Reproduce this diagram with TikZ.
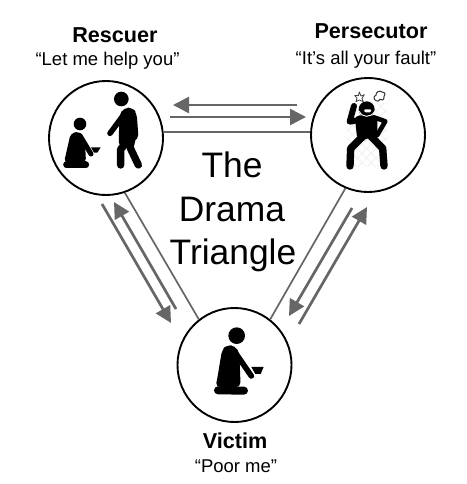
\documentclass[tikz,border=0pt]{standalone}
\usepackage{fontspec}
\setmainfont{Liberation Sans}
\usetikzlibrary{arrows.meta}
\definecolor{lnk}{HTML}{666666}
\tikzset{
  role/.style={circle,draw=black,line width=1.9pt,minimum size=114pt,inner sep=0pt,fill=white},
  link/.style={draw=lnk,line width=1.7pt},
  flow/.style={draw=lnk,line width=2.7pt,-{Triangle[length=16pt,width=16pt,color=lnk]}},
  rolename/.style={font=\fontsize{21.6}{24}\selectfont\bfseries,inner sep=0pt,anchor=base},
  quoteline/.style={font=\fontsize{18.5}{22}\selectfont,inner sep=0pt,anchor=base},
  titleline/.style={font=\fontsize{35.4}{40}\selectfont,inner sep=0pt,anchor=base},
  limb/.style={line cap=round,line join=round,draw=black},
  zoomed/.style={x=0.3333pt,y=-0.3333pt}
}
\begin{document}
\begin{tikzpicture}[x=1pt,y=-1pt]
\useasboundingbox (0,0) rectangle (466,484);
\fill[white] (0,0) rectangle (466,484);

\node[role] (r) at (106,138) {};
\node[role] (p) at (368,135) {};
\node[role] (v) at (234.5,365) {};

% connectors between circles
\draw[link] (r.6) -- (p.177);
\draw[link] (r.-71) -- (v.128);
\draw[link] (p.-113) -- (v.52);

% arrows
\coordinate (a1s) at (297,105); \coordinate (a1e) at (173,105);
\coordinate (a2s) at (170,117); \coordinate (a2e) at (306,117);
\coordinate (a3s) at (102,204); \coordinate (a3e) at (171,323);
\coordinate (a4s) at (176,309); \coordinate (a4e) at (114,202);
\coordinate (a5s) at (352,208); \coordinate (a5e) at (289,316);
\coordinate (a6s) at (299,324); \coordinate (a6e) at (367,207);
\draw[flow] (a1s) -- (a1e);
\draw[flow] (a2s) -- (a2e);
\draw[flow] (a3s) -- (a3e);
\draw[flow] (a4s) -- (a4e);
\draw[flow] (a5s) -- (a5e);
\draw[flow] (a6s) -- (a6e);

% Rescuer pictogram
\begin{scope}[shift={(30,70)},zoomed]
  \fill (274,87) circle[radius=22];
  \fill[rounded corners=5pt] (268,135) -- (282,113) -- (308,113) -- (320,130) -- (326,208) -- (266,232) -- cycle;
  \draw[limb,line width=5.6pt] (283,132) -- (240,190);
  \draw[limb,line width=7.4pt] (300,205) -- (272,238) -- (272,285);
  \draw[limb,line width=7.4pt] (306,205) -- (300,232) -- (325,285);
  \fill (150,162) circle[radius=19];
  \fill[rounded corners=4pt] (122,190) -- (150,184) -- (165,215) -- (168,278) -- (102,278) -- cycle;
  \draw[limb,line width=5pt] (150,197) -- (183,252);
  \draw[limb,line width=7pt] (110,285) -- (167,285);
  \fill (183,232) -- (212,232) -- (202,248) -- (192,248) -- cycle;
\end{scope}

% Persecutor pictogram
\begin{scope}[shift={(300,70)},zoomed]
  \begin{scope}
    \clip (140,100) rectangle (262,290);
    \foreach \k in {-140,-112,...,196} {
      \draw[black!6,line width=0.7pt] (130,110+\k) -- (270,250+\k);
      \draw[black!6,line width=0.7pt] (270,110+\k) -- (130,250+\k);
    }
  \end{scope}
  \fill[rounded corners=5pt] (164,136) -- (232,136) -- (232,200) -- (172,212) -- cycle;
  \draw[limb,line width=6pt] (178,150) -- (149,155) -- (162,108);
  \draw[limb,line width=4.6pt] (222,142) -- (256,154) -- (232,195);
  \draw[limb,line width=7.4pt] (190,198) -- (152,235) -- (150,288);
  \draw[limb,line width=7.4pt] (212,198) -- (248,235) -- (252,288);
  \fill (200,118) circle[radius=24];
  \draw[white,line width=0.9pt] (178,124) .. controls (186,144) and (214,144) .. (224,124);
  \fill[white,rounded corners=1pt] (192,118) -- (214,118) -- (212,127) -- (194,127) -- cycle;
  \draw[line width=0.8pt,line join=round,black!75] (178,66) -- (183,78) -- (193,74) -- (186,85) -- (190,95) -- (178,90) -- (168,95) -- (171,84) -- (164,76) -- (175,77) -- cycle;
  \draw[line width=1pt,line join=round,black!80] (228,92) .. controls (220,88) and (220,78) .. (228,76) .. controls (226,66) and (240,60) .. (246,66) .. controls (256,66) and (258,76) .. (252,80) .. controls (254,90) and (244,94) .. (240,88) .. controls (238,94) and (232,95) .. (228,92) -- cycle;
\end{scope}

% Victim pictogram
\begin{scope}[shift={(170,300)},zoomed]
  \fill (200,107) circle[radius=25];
  \fill[rounded corners=5pt] (156,150) -- (170,135) -- (196,137) -- (208,160) -- (212,262) -- (136,262) -- (142,235) -- cycle;
  \draw[limb,line width=5.6pt] (194,155) -- (244,228);
  \draw[limb,line width=8pt] (144,271) -- (222,272);
  \fill (244,201) -- (281,201) -- (272,222) -- (256,222) -- cycle;
\end{scope}

% Labels
\node[rolename] (rn) at (115,43) {Rescuer};
\node[quoteline] (rq) at (107.5,66) {“Let me help you”};
\node[rolename] (pn) at (371,39) {Persecutor};
\node[quoteline] (pq) at (366,65) {“It’s all your fault”};
\node[rolename] (vn) at (235,448) {Victim};
\node[quoteline] (vq) at (236,472) {“Poor me”};
\node[titleline] (t1) at (232,177) {The};
\node[titleline] (t2) at (232,221) {Drama};
\node[titleline] (t3) at (233,264) {Triangle};
\end{tikzpicture}
\end{document}
